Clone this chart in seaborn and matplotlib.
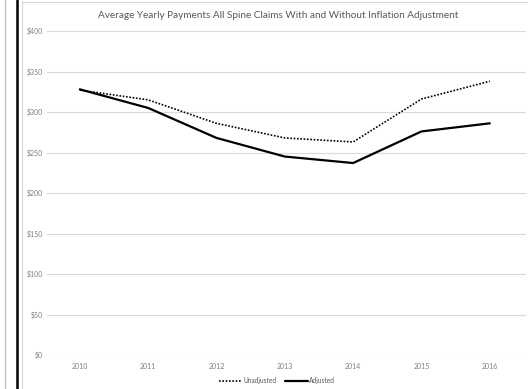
import matplotlib
matplotlib.use("Agg")
import matplotlib.pyplot as plt
from matplotlib.lines import Line2D
import seaborn as sns
import pandas as pd

years = [2010, 2011, 2012, 2013, 2014, 2015, 2016]
unadjusted = [327, 315, 286, 268, 263, 316, 338]
adjusted = [328, 305, 268, 245, 237, 276, 286]
yticks = [0, 50, 100, 150, 200, 250, 300, 350, 400]
title = "Average Yearly Payments All Spine Claims With and Without Inflation Adjustment"

df = pd.DataFrame({
    "Year": years * 2,
    "Value": unadjusted + adjusted,
    "Series": ["Unadjusted"] * len(years) + ["Adjusted"] * len(years),
})

sns.set_theme(style="white")
plt.rcParams["font.family"] = ["Lato", "DejaVu Sans"]

fig = plt.figure(figsize=(5.28, 3.89), dpi=100)
ax = fig.add_axes([47 / 528, 1 - 355 / 389, (526 - 47) / 528, (355 - 31) / 389])

sns.lineplot(data=df, x="Year", y="Value", hue="Series", style="Series",
             palette={"Unadjusted": "black", "Adjusted": "black"},
             dashes={"Unadjusted": (1, 1), "Adjusted": ""},
             size="Series", sizes={"Unadjusted": 1.2, "Adjusted": 1.6},
             legend=False, ax=ax)

ax.set_ylim(0, 400)
ax.set_xlim(years[0] - 0.48, years[-1] + 0.53)
ax.set_yticks(yticks)
ax.set_yticklabels([f"${v}" for v in yticks])
ax.set_xticks(years)
ax.set_xticklabels([str(y) for y in years])
ax.yaxis.grid(True, color="#d9d9d9", linewidth=0.8)
ax.set_axisbelow(True)
for s in ax.spines.values():
    s.set_visible(False)
ax.tick_params(axis="both", length=0, labelsize=5, colors="#7f7f7f")
ax.tick_params(axis="y", pad=3)
ax.tick_params(axis="x", pad=6)
ax.set_xlabel("")
ax.set_ylabel("")

fig.text(278 / 528, 1 - 15 / 389, title, ha="center", va="center",
         fontsize=7.2, color="#595959")

handles = [
    Line2D([], [], color="black", linestyle=(0, (1, 1)), linewidth=1.2),
    Line2D([], [], color="black", linestyle="-", linewidth=1.6),
]
fig.legend(handles, ["Unadjusted", "Adjusted"], loc="center",
           bbox_to_anchor=(277 / 528, 1 - 381 / 389), ncol=2, frameon=False,
           fontsize=4.8, labelcolor="#595959", handlelength=3.5,
           handletextpad=0.2, columnspacing=1.2)

# outer frame decorations
fig.add_artist(Line2D([4.5 / 528, 4.5 / 528], [0, 1], color="#bfbfbf", linewidth=1.0))
fig.add_artist(Line2D([17 / 528, 17 / 528], [0, 1], color="black", linewidth=1.8))
fig.add_artist(Line2D([22 / 528, 22 / 528], [0, 1 - 1 / 389], color="#d9d9d9", linewidth=0.8))
fig.add_artist(Line2D([22 / 528, 1], [1 - 1.5 / 389, 1 - 1.5 / 389], color="#d9d9d9", linewidth=0.8))

fig.savefig("out.png", dpi=100)
